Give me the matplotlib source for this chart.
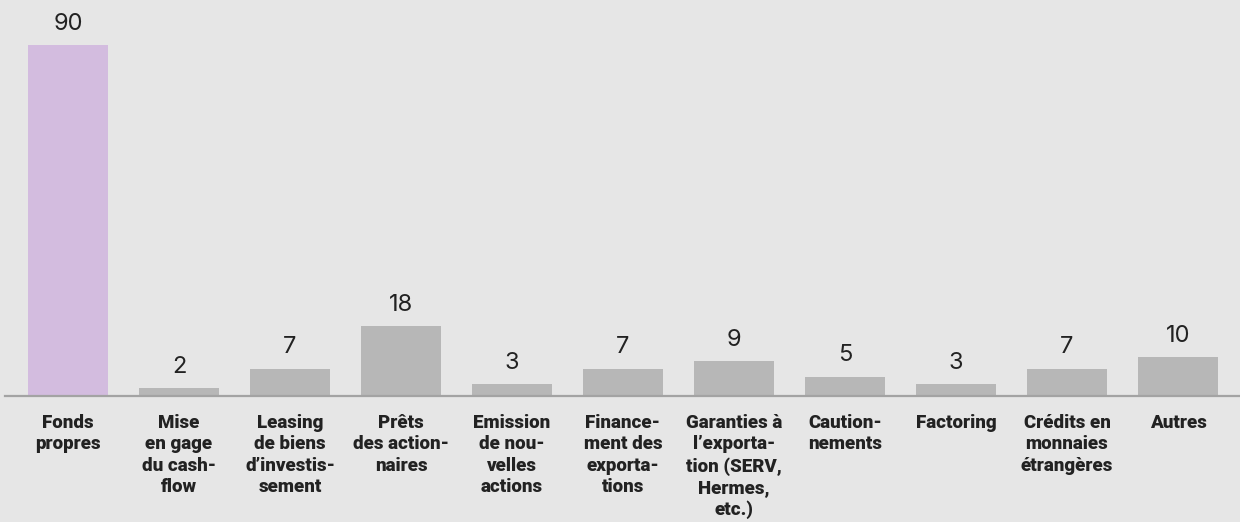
import matplotlib
matplotlib.use("Agg")
import matplotlib.pyplot as plt

categories = ["Fonds\npropres", "Mise\nen gage\ndu cash-\nflow", "Leasing\nde biens\nd’investis-\nsement",
              "Prêts\ndes action-\nnaires", "Emission\nde nou-\nvelles\nactions", "Finance-\nment des\nexporta-\ntions",
              "Garanties à\nl’exporta-\ntion (SERV,\nHermes,\netc.)", "Caution-\nnements", "Factoring",
              "Crédits en\nmonnaies\nétrangères", "Autres"]
values = [90, 2, 7, 18, 3, 7, 9, 5, 3, 7, 10]
highlight = [True] + [False] * 10

BG = "#e6e6e6"
PURPLE = "#d3bcdf"
GRAY = "#b7b7b7"
TXT = "#222222"

W, H = 1240, 522
fig = plt.figure(figsize=(W / 100, H / 100), dpi=100, facecolor=BG)
ax = fig.add_axes([5 / W, (H - 396) / H, 1235 / W, 396 / H])
ax.set_facecolor(BG)

x = list(range(len(values)))
colors = [PURPLE if h else GRAY for h in highlight]
ax.bar(x, values, width=80 / 111, color=colors, zorder=2)

ax.set_xlim(-63 / 111, -63 / 111 + 1235 / 111)
ax.set_ylim(0, 396 / 3.9)

for xi, v in zip(x, values):
    ax.annotate(str(v), (xi, v), xytext=(0, 11), textcoords="offset points",
                ha="center", va="baseline", fontsize=17, color=TXT, family="Inter")

ax.set_xticks(x)
ax.set_xticklabels(categories, fontsize=13.5, fontweight="black", color=TXT, family="Roboto",
                   linespacing=1.24, va="top")
ax.tick_params(axis="x", length=0, pad=13)
ax.set_yticks([])
for s in ["top", "left", "right"]:
    ax.spines[s].set_visible(False)
ax.spines["bottom"].set_color("#a3a3a3")
ax.spines["bottom"].set_linewidth(1.6)
ax.spines["bottom"].set_zorder(3)

fig.savefig("out.png", dpi=100, facecolor=BG)
